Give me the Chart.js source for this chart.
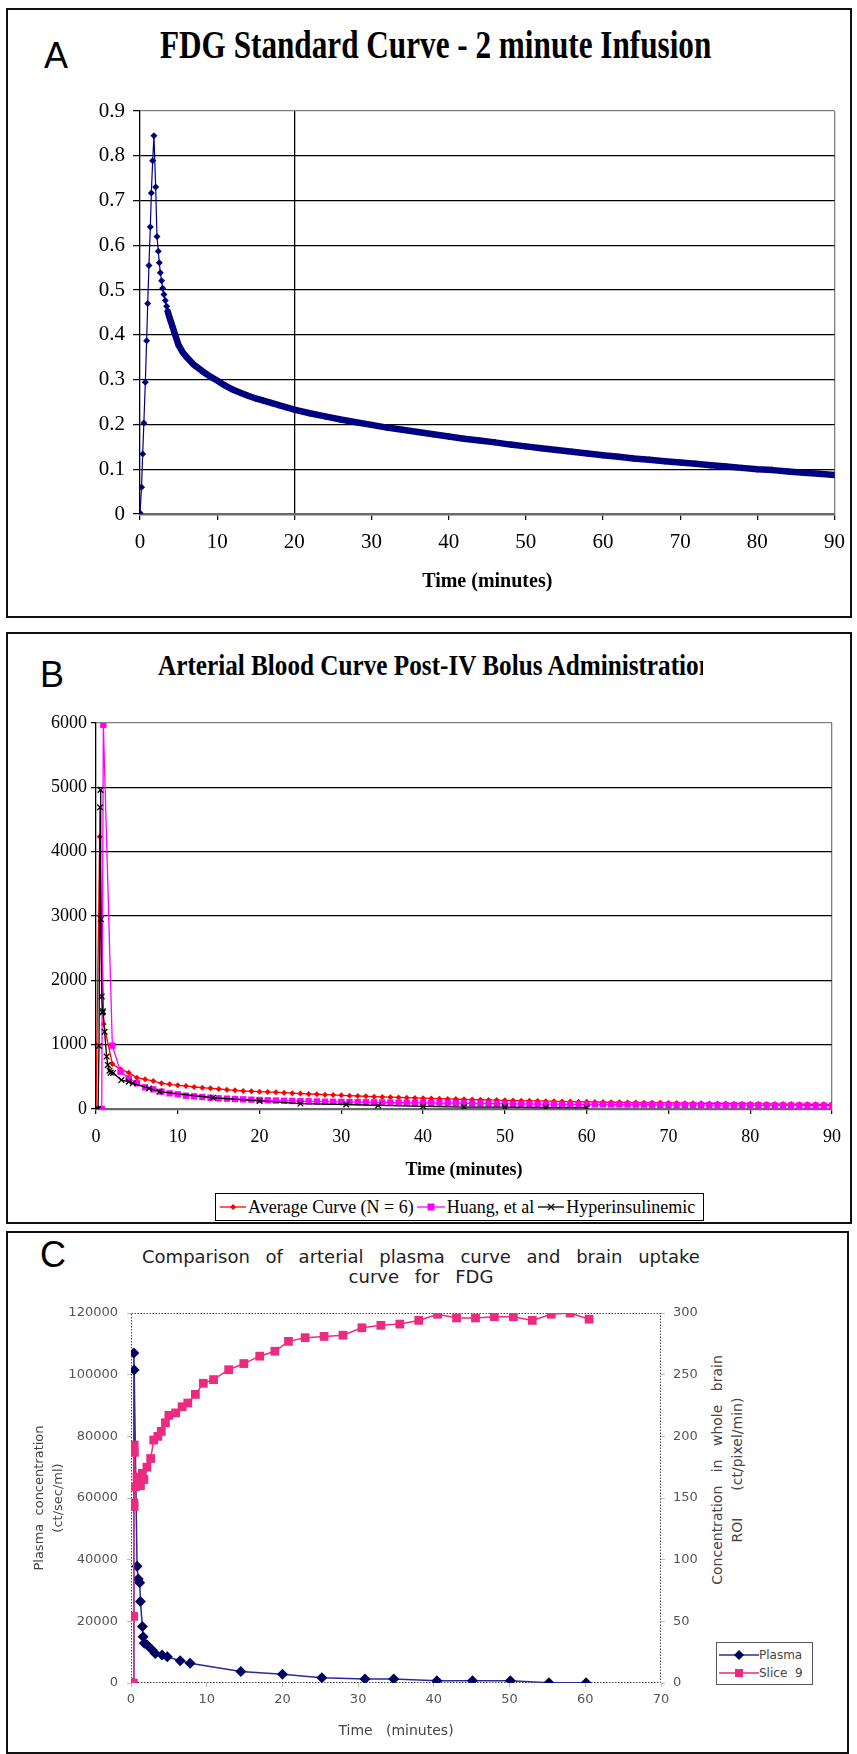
<!DOCTYPE html>
<html>
<head>
<meta charset="utf-8">
<script src="https://cdn.jsdelivr.net/npm/chart.js@4.4.1/dist/chart.umd.min.js"></script>
<style>
html, body { margin: 0; padding: 0; background: #fff; }
body { width: 857px; height: 1754px; position: relative; overflow: hidden; }
.panel { position: absolute; border: 2px solid #111; box-sizing: border-box; }
.letter { position: absolute; font-family: "Liberation Sans", Arial, sans-serif; font-size: 36px; line-height: 36px; color: #000; }
.ttl { position: absolute; font-family: "Liberation Serif", "Times New Roman", serif; font-weight: bold; white-space: nowrap; overflow: hidden; color: #000; }
.ttl span { display: inline-block; transform-origin: left center; }
canvas { position: absolute; }
.legB { position: absolute; left: 215px; top: 1193px; width: 489px; height: 28px; box-sizing: border-box; border: 1.5px solid #000; background: #fff;
        display: flex; align-items: center; font-family: "Liberation Serif", "Times New Roman", serif; font-size: 18px; white-space: nowrap; padding-left: 4px; }
.legB svg { margin-right: 2px; }
.legC { position: absolute; left: 716px; top: 1642px; width: 97px; height: 43px; box-sizing: border-box; border: 1.5px solid #555; background: #fff;
        font-family: "DejaVu Sans", Verdana, sans-serif; font-size: 12px; color: #444; padding: 3px 0 0 2px; }
.legC div { display: flex; align-items: center; height: 18px; white-space: pre; }
.titC { position: absolute; left: 121px; width: 600px; top: 1247px; text-align: center; font-family: "DejaVu Sans", Verdana, sans-serif;
        font-size: 18px; line-height: 20px; word-spacing: 10px; color: #222; }
.rtitC { position: absolute; left: 527px; top: 1450px; width: 400px; text-align: center; transform: rotate(-90deg); transform-origin: center center;
         font-family: "DejaVu Sans", Verdana, sans-serif; font-size: 14px; line-height: 20px; word-spacing: 9px; color: #444; }
</style>
</head>
<body>

<div class="panel" style="left:6px; top:8px; width:846px; height:610px;"></div>
<div class="panel" style="left:6px; top:632px; width:846px; height:592px;"></div>
<div class="panel" style="left:6px; top:1231px; width:843px; height:523px;"></div>

<div class="letter" style="left:44px; top:38px;">A</div>
<div class="letter" style="left:40px; top:657px;">B</div>
<div class="letter" style="left:40px; top:1237px;">C</div>

<div class="ttl" style="left:160px; top:25px; width:600px; font-size:40px; line-height:40px;"><span style="transform:scaleX(0.78)">FDG Standard Curve - 2 minute Infusion</span></div>
<div class="ttl" style="left:158px; top:650px; width:545px; font-size:30px; line-height:30px;"><span style="transform:scaleX(0.84)">Arterial Blood Curve Post-IV Bolus Administration</span></div>
<div class="titC">Comparison  of  arterial  plasma  curve  and  brain  uptake<br>curve  for  FDG</div>
<div class="rtitC">Concentration in whole brain<br>ROI &nbsp;(ct/pixel/min)</div>

<canvas id="chartA" width="845" height="520" style="left:10px; top:90px;"></canvas>
<canvas id="chartB" width="845" height="490" style="left:10px; top:700px;"></canvas>
<canvas id="chartC" width="760" height="460" style="left:10px; top:1290px;"></canvas>

<div class="legB">
  <svg width="26" height="12"><line x1="0" y1="6" x2="26" y2="6" stroke="#ff0000" stroke-width="1.3"/><polygon points="10,6 13,3 16,6 13,9" fill="#ff0000"/></svg>
  <span>Average Curve (N = 6)</span>
  <svg width="28" height="12" style="margin-left:3px"><line x1="0" y1="6" x2="28" y2="6" stroke="#ff00ff" stroke-width="1.3"/><rect x="10.5" y="2.5" width="7" height="7" fill="#ff00ff"/></svg>
  <span>Huang, et al</span>
  <svg width="26" height="12" style="margin-left:4px"><line x1="0" y1="6" x2="26" y2="6" stroke="#000" stroke-width="1.3"/><path d="M10,3 L16,9 M16,3 L10,9" stroke="#000" stroke-width="1.3"/></svg>
  <span>Hyperinsulinemic</span>
</div>

<div class="legC">
  <div><svg width="40" height="12"><line x1="0" y1="6" x2="40" y2="6" stroke="#2a2a9a" stroke-width="1.3"/><polygon points="15,6 20,1 25,6 20,11" fill="#000060"/></svg>Plasma</div>
  <div><svg width="40" height="12"><line x1="0" y1="6" x2="40" y2="6" stroke="#ec2a80" stroke-width="1.3"/><rect x="16" y="2" width="8" height="8" fill="#ec2a80"/></svg>Slice  9</div>
</div>

<script>
// ---- Panel A: FDG standard curve, 2 minute infusion ----
const timeA = [0, 0.2, 0.35, 0.5, 0.69, 0.86, 1.0, 1.16, 1.34, 1.47, 1.64, 1.81,
  2.03, 2.2, 2.37, 2.5, 2.63, 2.8, 2.93, 3.1, 3.27, 3.45, 3.6, 3.8, 4,
  4.5, 5, 5.5, 6,
  7, 8, 9, 10, 11, 12, 13, 14, 15, 16, 17, 18, 19, 20,
  22, 24, 26, 28, 30, 32, 34, 36, 38, 40, 42, 44, 46, 48, 50, 52, 54, 56, 58, 60,
  62, 64, 66, 68, 70, 72, 74, 76, 78, 80, 82, 84, 86, 88, 90];
const fdgA = [0.002, 0.06, 0.134, 0.203, 0.294, 0.387, 0.47, 0.555, 0.641, 0.717, 0.789, 0.845,
  0.73, 0.62, 0.587, 0.561, 0.539, 0.521, 0.504, 0.49, 0.477, 0.464, 0.452, 0.44, 0.43,
  0.403, 0.377, 0.362, 0.351,
  0.333, 0.320, 0.308, 0.298, 0.287, 0.278, 0.271, 0.264, 0.258, 0.253, 0.248, 0.243, 0.238, 0.233,
  0.225, 0.218, 0.211, 0.205, 0.199, 0.193, 0.188, 0.183, 0.178, 0.173, 0.168, 0.164, 0.160, 0.155, 0.151, 0.147, 0.143, 0.139, 0.135, 0.131,
  0.128, 0.124, 0.121, 0.118, 0.115, 0.112, 0.109, 0.106, 0.103, 0.100, 0.098, 0.095, 0.092, 0.090, 0.087];

// ---- Panel B: arterial blood curve ----
const minutesB = [2, 3, 4, 5, 6, 7, 8, 9, 10, 11, 12, 13, 14, 15, 16, 17, 18, 19, 20,
  21, 22, 23, 24, 25, 26, 27, 28, 29, 30, 31, 32, 33, 34, 35, 36, 37, 38, 39, 40,
  41, 42, 43, 44, 45, 46, 47, 48, 49, 50, 51, 52, 53, 54, 55, 56, 57, 58, 59, 60,
  61, 62, 63, 64, 65, 66, 67, 68, 69, 70, 71, 72, 73, 74, 75, 76, 77, 78, 79, 80,
  81, 82, 83, 84, 85, 86, 87, 88, 89, 90];
const timeAvg = [0, 0.45, 0.95, ...minutesB];
const avgCurve = [0, 4230, 1320,
  700, 617, 565, 487, 461, 436, 400, 384, 368, 358, 342, 332, 321, 311, 301, 290, 280, 275, 270,
  265, 259, 253, 246, 240, 234, 229, 223, 218, 212, 207, 202, 197, 192, 188, 184, 180, 176, 172, 168,
  164, 161, 157, 154, 150, 147, 144, 141, 138, 135, 132, 130, 127, 125, 122, 120, 118, 115, 113, 111,
  109, 107, 105, 104, 102, 100, 99, 97, 96, 94, 93, 91, 90, 88, 87, 86, 85, 83, 82, 81,
  80, 79, 78, 77, 76, 75, 74, 73, 73, 72];
const timeHuang = [0.7, 0.9, ...minutesB];
const huang = [0, 5970,
  985, 581, 477, 400, 337, 306, 270, 244, 228, 207, 197, 187, 176, 166, 161, 156, 150, 145, 140,
  135, 131, 128, 125, 122, 119, 117, 114, 112, 110, 108, 106, 105, 103, 101, 100, 98, 97, 96, 95,
  93, 92, 91, 90, 88, 87, 86, 85, 84, 82, 81, 80, 79, 78, 77, 76, 75, 74, 73, 72,
  71, 71, 70, 69, 68, 67, 67, 66, 65, 65, 64, 63, 63, 62, 61, 61, 60, 59, 59, 58,
  58, 57, 56, 56, 55, 55, 54, 53, 53, 52];
const timeHyper = [0, 0.25, 0.37, 0.5, 0.55, 0.6, 0.7, 0.8, 0.85, 1.05, 1.3, 1.45, 1.65, 1.8, 2.1,
  3.1, 4, 4.5, 6.5, 7.75, 14.3, 20, 25, 30.6, 34.5, 40, 45, 50, 55, 60];
const hyper = [0, 0, 980, 4690, 4960, 2950, 1750, 1500, 1520, 1200, 815, 685, 595, 565, 560,
  450, 425, 400, 320, 270, 175, 125, 85, 70, 55, 40, 30, 30, 22, 20];

// ---- Panel C: plasma vs brain uptake ----
const timePlasma = [0.3, 0.38, 0.42, 0.8, 0.95, 1.15, 1.25, 1.5, 1.6, 1.75, 2.1, 2.8, 3.2, 4.1, 4.8,
  6.5, 7.8, 14.5, 20, 25.2, 30.9, 34.7, 40.4, 45.1, 50.1, 55.2, 60.1];
const plasma = [0, 107000, 101500, 37900, 33700, 32500, 26400, 18300, 15000, 12900, 12400, 10700, 9600, 9100, 8500,
  7200, 6400, 3700, 2800, 1700, 1300, 1300, 750, 750, 750, 100, 100];
const timeSlice = [0.3, 0.35, 0.38, 0.4, 0.42, 0.45, 0.6, 0.8, 1.0, 1.25, 1.5, 1.7, 2.1, 2.6, 3.0, 3.55,
  4.0, 4.55, 5.0, 5.9, 6.75, 7.5, 8.5, 9.55, 10.9, 12.9, 14.9, 17, 19, 20.8,
  23, 25.5, 28, 30.5, 33, 35.5, 38, 40.5, 43, 45.5, 48, 50.5, 53, 55.5, 58, 60.5];
const slice9 = [0, 54, 146, 143, 193, 187, 159, 167, 162, 160, 170, 165, 175, 182, 197, 200,
  204, 211, 217, 219, 224, 227, 234, 243, 246, 254, 259, 265, 269, 277,
  280, 281, 282, 288, 290, 291, 294, 299, 296, 296, 297, 297, 294, 299, 300, 295];

const SERIF = '"Liberation Serif", "Times New Roman", serif';
const SANS = '"DejaVu Sans", Verdana, sans-serif';
const NONE = 'rgba(0,0,0,0)';

function pts(xs, ys) {
  return xs.map((x, i) => ({ x: x, y: ys[i] }));
}
// plain numbers, no thousands separator
const plain = v => String(v);

Chart.defaults.animation = false;

// Panel A
new Chart(document.getElementById('chartA'), {
  type: 'line',
  data: {
    datasets: [{
      data: pts(timeA, fdgA),
      borderColor: '#000080', backgroundColor: '#000080',
      borderWidth: 1.2, borderCapStyle: 'round', borderJoinStyle: 'round',
      pointStyle: 'rectRot', pointRadius: 3.5, pointBorderWidth: 0,
      segment: { borderWidth: c => c.p0.parsed.x >= 3.6 ? 6.5 : 1.2 }
    }]
  },
  options: {
    responsive: false, devicePixelRatio: 1,
    layout: { padding: { top: 21, right: 20, left: 0, bottom: 0 } },
    plugins: { legend: { display: false }, tooltip: { enabled: false } },
    scales: {
      x: {
        type: 'linear', min: 0, max: 90,
        afterFit: s => { s.height = 96; },
        ticks: { stepSize: 10, padding: 10, color: '#000', font: { family: SERIF, size: 21 } },
        grid: {
          color: c => c.tick.value === 20 ? '#000' : (c.tick.value === 90 ? '#808080' : NONE),
          lineWidth: 1.3, tickColor: '#000', tickLength: 6, tickWidth: 1.2
        },
        border: { color: '#6a6a6a', width: 2.5 },
        title: { display: true, text: 'Time (minutes)', color: '#000',
          font: { family: SERIF, size: 20, weight: 'bold' }, padding: { top: 0, bottom: 16 } }
      },
      y: {
        min: 0, max: 0.9,
        afterFit: s => { s.width = 130; },
        ticks: { stepSize: 0.1, padding: 8, color: '#000', font: { family: SERIF, size: 21 },
          callback: v => v === 0 ? '0' : v.toFixed(1) },
        grid: {
          color: c => c.tick.value === 0 ? NONE : (c.tick.value > 0.89 ? '#808080' : '#000'),
          lineWidth: 1.3, tickColor: '#000', tickLength: 7, tickWidth: 1.2
        },
        border: { color: '#000', width: 1.3 }
      }
    }
  }
});

// Panel B
new Chart(document.getElementById('chartB'), {
  type: 'line',
  data: {
    datasets: [
      { label: 'Average Curve (N = 6)', data: pts(timeAvg, avgCurve), order: 3,
        borderColor: '#ff0000', backgroundColor: '#ff0000', borderWidth: 1.3,
        pointStyle: 'rectRot', pointRadius: 3, pointBorderWidth: 0 },
      { label: 'Huang, et al', data: pts(timeHuang, huang), order: 2,
        borderColor: '#ff00ff', backgroundColor: '#ff00ff', borderWidth: 1.3,
        pointStyle: 'rect', pointRadius: 4.5, pointBorderWidth: 0 },
      { label: 'Hyperinsulinemic', data: pts(timeHyper, hyper), order: 1,
        borderColor: '#000', backgroundColor: '#000', borderWidth: 1.3,
        pointStyle: 'crossRot', pointRadius: 4, pointBorderColor: '#000', pointBorderWidth: 1.3 }
    ]
  },
  options: {
    responsive: false, devicePixelRatio: 1,
    layout: { padding: { top: 23, right: 23, left: 0, bottom: 0 } },
    plugins: { legend: { display: false }, tooltip: { enabled: false } },
    scales: {
      x: {
        type: 'linear', min: 0, max: 90,
        afterFit: s => { s.height = 81; },
        ticks: { stepSize: 10, padding: 12, color: '#000', font: { family: SERIF, size: 18 } },
        grid: { color: c => c.tick.value === 90 ? '#808080' : NONE, lineWidth: 1.3,
          tickColor: '#000', tickLength: 5, tickWidth: 1.2 },
        border: { color: '#6a6a6a', width: 2.2 },
        title: { display: true, text: 'Time (minutes)', color: '#000',
          font: { family: SERIF, size: 18, weight: 'bold' }, padding: { top: 0, bottom: 9 } }
      },
      y: {
        min: 0, max: 6000,
        afterFit: s => { s.width = 86; },
        ticks: { stepSize: 1000, padding: 4, color: '#000', font: { family: SERIF, size: 18 }, callback: plain },
        grid: { color: c => c.tick.value === 0 ? NONE : (c.tick.value === 6000 ? '#808080' : '#000'),
          lineWidth: 1.3, tickColor: '#000', tickLength: 5, tickWidth: 1.2 },
        border: { color: '#000', width: 1.3 }
      }
    }
  }
});

// Panel C
const dottedFrame = {
  id: 'dottedFrame',
  beforeDatasetsDraw(chart) {
    const { ctx, chartArea: a } = chart;
    ctx.save();
    ctx.strokeStyle = '#444';
    ctx.lineWidth = 1;
    ctx.setLineDash([1.5, 1.5]);
    ctx.strokeRect(a.left + 0.5, a.top + 0.5, a.width - 1, a.height - 1);
    ctx.restore();
  }
};

new Chart(document.getElementById('chartC'), {
  type: 'line',
  data: {
    datasets: [
      { label: 'Plasma', data: pts(timePlasma, plasma), yAxisID: 'y', order: 2,
        borderColor: '#2a2a9a', backgroundColor: '#000060', borderWidth: 1.5,
        pointStyle: 'rectRot', pointRadius: 5.5, pointBorderWidth: 0 },
      { label: 'Slice 9', data: pts(timeSlice, slice9), yAxisID: 'y1', order: 1,
        borderColor: '#ec2a80', backgroundColor: '#ec2a80', borderWidth: 1.5,
        pointStyle: 'rect', pointRadius: 6.2, pointBorderWidth: 0 }
    ]
  },
  options: {
    responsive: false, devicePixelRatio: 1,
    layout: { padding: { top: 23, right: 49, left: 0, bottom: 0 } },
    plugins: { legend: { display: false }, tooltip: { enabled: false } },
    scales: {
      x: {
        type: 'linear', min: 0, max: 70,
        afterFit: s => { s.height = 67; },
        ticks: { stepSize: 10, padding: 5, color: '#555', font: { family: SANS, size: 13 } },
        grid: { display: true, drawOnChartArea: false, tickColor: '#bbb', tickLength: 4 },
        border: { display: false },
        title: { display: true, text: 'Time   (minutes)', color: '#444',
          font: { family: SANS, size: 14 }, padding: { top: 0, bottom: 10 } }
      },
      y: {
        position: 'left', min: 0, max: 120000,
        afterFit: s => { s.width = 121; },
        ticks: { stepSize: 20000, padding: 9, color: '#555', font: { family: SANS, size: 13 }, callback: plain },
        grid: { display: true, drawOnChartArea: false, tickColor: '#bbb', tickLength: 4 },
        border: { display: false },
        title: { display: true, text: ['Plasma  concentration', '(ct/sec/ml)'], color: '#444',
          font: { family: SANS, size: 13, lineHeight: 1.4 }, padding: { top: 21, bottom: 0 } }
      },
      y1: {
        position: 'right', min: 0, max: 300,
        afterFit: s => { s.width = 60; },
        ticks: { stepSize: 50, padding: 8, color: '#555', font: { family: SANS, size: 13 }, callback: plain },
        grid: { display: true, drawOnChartArea: false, tickColor: '#bbb', tickLength: 4 },
        border: { display: false }
      }
    }
  },
  plugins: [dottedFrame]
});
</script>
</body>
</html>
